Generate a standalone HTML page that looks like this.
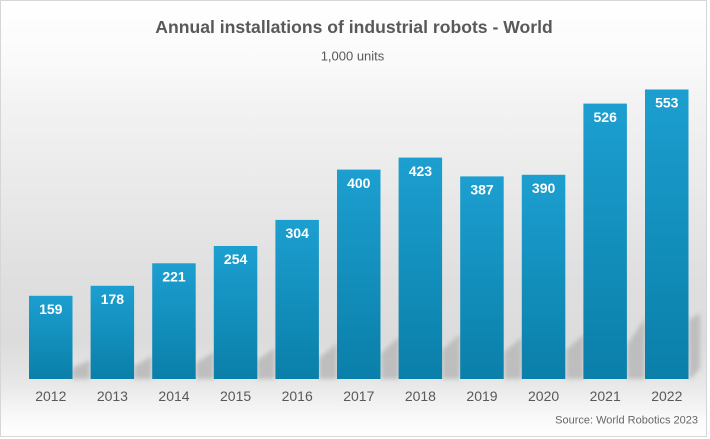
<!DOCTYPE html>
<html>
<head>
<meta charset="utf-8">
<style>
  html,body{margin:0;padding:0;background:#fff;}
  body{width:710px;height:439px;overflow:hidden;}
  svg{display:block;}
  text{font-family:"Liberation Sans", Arial, sans-serif;}
</style>
</head>
<body>
<svg width="710" height="439" viewBox="0 0 710 439" xmlns="http://www.w3.org/2000/svg">
  <defs>
    <linearGradient id="bg" x1="0" y1="0" x2="0" y2="437" gradientUnits="userSpaceOnUse">
      <stop offset="0" stop-color="#ffffff"/>
      <stop offset="0.14" stop-color="#fafafa"/>
      <stop offset="0.23" stop-color="#f3f3f3"/>
      <stop offset="0.46" stop-color="#e8e8e8"/>
      <stop offset="0.64" stop-color="#dfdfdf"/>
      <stop offset="0.78" stop-color="#dcdcdc"/>
      <stop offset="0.87" stop-color="#e6e6e6"/>
      <stop offset="0.915" stop-color="#f0f0f0"/>
      <stop offset="0.96" stop-color="#fafafa"/>
      <stop offset="1" stop-color="#ffffff"/>
    </linearGradient>
    <linearGradient id="bar" x1="0" y1="0" x2="0" y2="1">
      <stop offset="0" stop-color="#1c9fd0"/>
      <stop offset="1" stop-color="#0a7fa9"/>
    </linearGradient>
    <filter id="blur" x="-50%" y="-50%" width="200%" height="200%">
      <feGaussianBlur stdDeviation="2"/>
    </filter>
  </defs>

  <rect x="0" y="0" width="710" height="439" fill="#ffffff"/>
  <rect x="0.5" y="0.5" width="706" height="436" fill="url(#bg)" stroke="#d6d6d6" stroke-width="1"/>

  <!-- shadows -->
  <g fill="#b8b8b8" filter="url(#blur)" opacity="0.85">
    <polygon points="72,379 72,368 90,360 90,379"/>
    <polygon points="134,379 134,366 152,356 152,379"/>
    <polygon points="196,379 196,363 214,352 214,379"/>
    <polygon points="257,379 257,360 275,348 275,379"/>
    <polygon points="319,379 319,358 337,343 337,379"/>
    <polygon points="381,379 381,353 399,337 399,379"/>
    <polygon points="442,379 442,350 460,334 460,379"/>
    <polygon points="504,379 504,352 522,337 522,379"/>
    <polygon points="566,379 566,350 584,334 584,379"/>
    <polygon points="627,379 627,345 645,318 645,379"/>
    <polygon points="689,379 689,320 700,313 700,368 692,378"/>
  </g>

  <!-- bars -->
  <g fill="url(#bar)">
    <rect x="29" y="295.8" width="43.5" height="83.2"/>
    <rect x="90.6" y="285.8" width="43.5" height="93.2"/>
    <rect x="152.2" y="263.3" width="43.5" height="115.7"/>
    <rect x="213.8" y="246" width="43.5" height="133"/>
    <rect x="275.4" y="219.9" width="43.5" height="159.1"/>
    <rect x="337" y="169.6" width="43.5" height="209.4"/>
    <rect x="398.6" y="157.6" width="43.5" height="221.4"/>
    <rect x="460.2" y="176.4" width="43.5" height="202.6"/>
    <rect x="521.8" y="174.8" width="43.5" height="204.2"/>
    <rect x="583.4" y="103.6" width="43.5" height="275.4"/>
    <rect x="645" y="89.5" width="43.5" height="289.5"/>
  </g>

  <!-- value labels -->
  <g fill="#ffffff" font-size="14" font-weight="bold" text-anchor="middle">
    <text x="50.8" y="314">159</text>
    <text x="112.4" y="304">178</text>
    <text x="174" y="281.5">221</text>
    <text x="235.6" y="264.2">254</text>
    <text x="297.2" y="238.1">304</text>
    <text x="358.8" y="187.8">400</text>
    <text x="420.4" y="175.8">423</text>
    <text x="482" y="194.6">387</text>
    <text x="543.6" y="193">390</text>
    <text x="605.2" y="121.8">526</text>
    <text x="666.8" y="107.7">553</text>
  </g>

  <!-- year labels -->
  <g fill="#595959" font-size="14" text-anchor="middle">
    <text x="50.8" y="401">2012</text>
    <text x="112.4" y="401">2013</text>
    <text x="174" y="401">2014</text>
    <text x="235.6" y="401">2015</text>
    <text x="297.2" y="401">2016</text>
    <text x="358.8" y="401">2017</text>
    <text x="420.4" y="401">2018</text>
    <text x="482" y="401">2019</text>
    <text x="543.6" y="401">2020</text>
    <text x="605.2" y="401">2021</text>
    <text x="666.8" y="401">2022</text>
  </g>

  <!-- titles -->
  <text x="354" y="33" fill="#595959" font-size="17.6" font-weight="bold" text-anchor="middle">Annual installations of industrial robots - World</text>
  <text x="352.5" y="60.5" fill="#595959" font-size="13" text-anchor="middle">1,000 units</text>

  <!-- source -->
  <text x="698" y="423.5" fill="#666666" font-size="11" text-anchor="end">Source: World Robotics 2023</text>
</svg>
</body>
</html>
